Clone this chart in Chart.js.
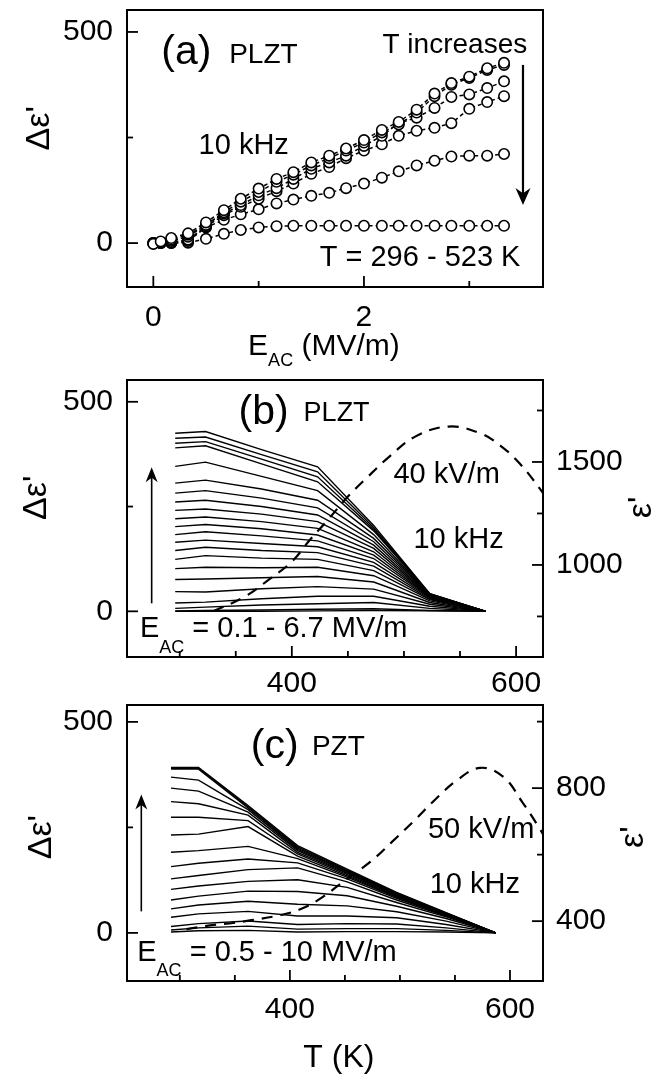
<!DOCTYPE html>
<html>
<head>
<meta charset="utf-8">
<script src="https://cdn.jsdelivr.net/npm/chart.js@4.4.1/dist/chart.umd.min.js"></script>
<style>
  body { margin: 0; background: #fff; width: 668px; height: 1078px; position: relative; overflow: hidden; }
  canvas { position: absolute; left: 0; }
</style>
</head>
<body>
<canvas id="chartA" width="668" height="372" style="top:0"></canvas>
<canvas id="chartB" width="668" height="328" style="top:372px"></canvas>
<canvas id="chartC" width="668" height="378" style="top:700px"></canvas>
<script>
const FONT = '"Liberation Sans", Arial, Helvetica, sans-serif';

// ---- panel (a): delta eps' vs E_AC, one series per temperature
const fieldA = [0, 0.07, 0.17, 0.33, 0.5, 0.67, 0.83, 1.0, 1.17, 1.33, 1.5, 1.67, 1.83, 2.0, 2.17, 2.33, 2.5, 2.67, 2.83, 3.0, 3.17, 3.33];
const epsA296 = [-2, 4, 12, 23, 49, 78, 105, 129, 152, 168, 191, 207, 224, 244, 268, 287, 316, 354, 379, 394, 414, 427];
const epsA323 = [-1, 2, 8, 20, 43, 73, 98, 121, 145, 162, 184, 201, 219, 238, 262, 281, 309, 348, 375, 391, 410, 422];
const epsA373 = [0, 1, 5, 15, 43, 70, 90, 113, 130, 152, 176, 191, 207, 230, 254, 284, 297, 320, 346, 352, 367, 383];
const epsA423 = [0, 0, 2, 8, 39, 66, 86, 105, 123, 141, 164, 180, 201, 219, 234, 254, 266, 273, 284, 318, 334, 348];
const epsA473 = [0, 0, 0, 5, 37, 55, 68, 80, 94, 103, 112, 119, 130, 141, 155, 170, 184, 195, 205, 207, 207, 211];
const epsA523 = [0, 0, 0, 1, 10, 22, 31, 37, 40, 41, 41, 41, 41, 41, 41, 41, 41, 41, 41, 41, 41, 41];

// ---- panel (b): PLZT, delta eps' vs T, one curve per E_AC (0.1 - 6.7 MV/m)
const tempB = [296, 323, 373, 423, 473, 523, 573];
const curvesB = [
  [425, 429, 386, 345, 205, 42, 0],
  [413, 416, 374, 333, 200, 42, 0],
  [401, 405, 363, 321, 196, 41, 0],
  [390, 395, 352, 309, 192, 41, 0],
  [346, 356, 322, 288, 183, 40, 0],
  [306, 313, 292, 265, 174, 40, 0],
  [282, 288, 270, 247, 166, 39, 0],
  [261, 265, 250, 230, 158, 38, 0],
  [241, 244, 232, 214, 150, 37, 0],
  [221, 225, 214, 198, 142, 36, 0],
  [202, 207, 197, 182, 134, 35, 0],
  [183, 190, 180, 168, 126, 34, 0],
  [165, 170, 162, 154, 117, 32, 0],
  [145, 153, 145, 140, 108, 30, 0],
  [124, 133, 127, 124, 97, 28, 0],
  [102, 105, 104, 105, 85, 25, 0],
  [76, 77, 80, 83, 70, 21, 0],
  [47, 46, 54, 59, 53, 17, 0],
  [20, 22, 30, 36, 36, 12, 0],
  [7, 10, 15, 18, 21, 7, 0],
  [1, 2, 3, 5, 6, 2, 0],
  [0, 0, 0, 1, 2, 1, 0]
];
// eps' at 40 kV/m (right axis)
const tempEpsB = [330, 358, 381, 400, 416, 432, 450, 468, 487, 510, 540, 568, 587, 603, 621, 630];
const epsB = [775, 846, 935, 1016, 1121, 1218, 1332, 1429, 1526, 1623, 1672, 1639, 1575, 1494, 1372, 1300];

// ---- panel (c): PZT, delta eps' vs T, one curve per E_AC (0.5 - 10 MV/m)
const tempC = [292, 317, 362, 407, 452, 497, 542, 587];
const curvesC = [
  [392, 392, 302, 207, 151, 96, 48, 0],
  [390, 390, 299, 204, 149, 95, 47, 0],
  [388, 388, 296, 201, 147, 94, 47, 0],
  [369, 362, 292, 198, 145, 93, 46, 0],
  [343, 336, 286, 195, 143, 91, 46, 0],
  [311, 306, 279, 191, 141, 90, 45, 0],
  [274, 274, 266, 187, 138, 88, 44, 0],
  [232, 234, 252, 182, 135, 86, 43, 0],
  [191, 195, 205, 176, 132, 84, 42, 0],
  [157, 165, 175, 166, 128, 82, 41, 0],
  [128, 136, 150, 154, 121, 78, 40, 0],
  [103, 111, 122, 126, 108, 72, 38, 0],
  [78, 87, 99, 98, 88, 63, 34, 0],
  [57, 66, 75, 68, 64, 50, 28, 0],
  [37, 45, 51, 40, 40, 36, 20, 0],
  [15, 22, 28, 20, 22, 21, 12, 0],
  [7, 12, 16, 9, 10, 10, 6, 0],
  [2, 5, 6, 2, 3, 3, 2, 0]
];
// eps' at 50 kV/m (right axis)
const tempEpsC = [306, 329, 345, 365, 391, 411, 430, 452, 473, 493, 512, 530, 552, 573, 594, 611, 625, 632];
const epsC = [376, 388, 393, 403, 418, 438, 473, 528, 578, 639, 699, 759, 824, 861, 834, 759, 689, 650];

// ---- axis ticks
const deltaMajor = [0, 500];
const deltaMinor = [250];
const fieldMajor = [0, 2];
const fieldMinor = [1, 3];
const tempMajor = [400, 600];
const tempMinor = [300, 350, 450, 500, 550];
const epsMajorB = [1000, 1500];
const epsMinorB = [750, 1250, 1750];
const epsMajorC = [400, 800];
const epsMinorC = [600, 1000];

function drawText(ctx, scales, t) {
  const px = scales.x.getPixelForValue(t.x);
  const py = scales.y.getPixelForValue(t.y);
  ctx.save();
  ctx.translate(px, py);
  if (t.rot) ctx.rotate(t.rot * Math.PI / 180);
  ctx.fillStyle = '#000';
  ctx.textBaseline = 'middle';
  ctx.textAlign = 'left';
  const widths = t.parts.map(p => {
    ctx.font = p.size + 'px ' + FONT;
    return ctx.measureText(p.s).width;
  });
  const total = widths.reduce((s, w) => s + w, 0);
  let cx = t.align === 'right' ? -total : t.align === 'center' ? -total / 2 : 0;
  t.parts.forEach((p, i) => {
    ctx.font = p.size + 'px ' + FONT;
    ctx.fillText(p.s, cx, p.dy || 0);
    cx += widths[i];
  });
  ctx.restore();
}

function makeDecor(cfg) {
  return {
    id: 'decor',
    afterDraw(chart) {
      const { ctx, chartArea: a, scales } = chart;
      ctx.save();
      ctx.strokeStyle = '#000';
      ctx.fillStyle = '#000';
      ctx.lineWidth = 1.8;
      // inward ticks
      cfg.ticks.forEach(t => {
        const s = scales[t.axis];
        const mark = (v, len) => {
          const p = s.getPixelForValue(v);
          ctx.beginPath();
          if (t.axis === 'x') { ctx.moveTo(p, a.bottom); ctx.lineTo(p, a.bottom - len); }
          else if (s.position === 'left') { ctx.moveTo(a.left, p); ctx.lineTo(a.left + len, p); }
          else { ctx.moveTo(a.right, p); ctx.lineTo(a.right - len, p); }
          ctx.stroke();
        };
        t.major.forEach(v => mark(v, 11));
        t.minor.forEach(v => mark(v, 6));
      });
      ctx.lineWidth = 2;
      ctx.strokeRect(a.left, a.top, a.right - a.left, a.bottom - a.top);
      // arrows
      cfg.arrows.forEach(ar => {
        const x = scales.x.getPixelForValue(ar.x);
        const y0 = scales.y.getPixelForValue(ar.from);
        const y1 = scales.y.getPixelForValue(ar.to);
        const dir = Math.sign(y1 - y0);
        ctx.lineWidth = ar.lw;
        ctx.beginPath();
        ctx.moveTo(x, y0);
        ctx.lineTo(x, y1 - dir * ar.head * 0.6);
        ctx.stroke();
        ctx.beginPath();
        ctx.moveTo(x, y1);
        ctx.lineTo(x - ar.half, y1 - dir * ar.head);
        ctx.lineTo(x, y1 - dir * ar.head * 0.7);
        ctx.lineTo(x + ar.half, y1 - dir * ar.head);
        ctx.closePath();
        ctx.fill();
      });
      cfg.texts.forEach(t => drawText(ctx, scales, t));
      ctx.restore();
    }
  };
}

function linAxis(pos, min, max, majors, size, pad, fontSize) {
  const vertical = pos === 'left' || pos === 'right';
  return {
    type: 'linear', position: pos, min: min, max: max,
    grid: { display: false, drawTicks: false },
    border: { display: false },
    afterBuildTicks: s => { s.ticks = majors.map(v => ({ value: v })); },
    afterFit: s => {
      if (vertical) s.width = size; else s.height = size;
      // keep the plot box exactly where the layout padding puts it
      s.paddingTop = 0; s.paddingBottom = 0; s.paddingLeft = 0; s.paddingRight = 0;
    },
    ticks: {
      color: '#000', padding: pad, autoSkip: false, maxRotation: 0,
      font: { family: FONT, size: fontSize },
      callback: v => String(v)
    }
  };
}

const baseOptions = (padTop, padRight) => ({
  responsive: false,
  animation: false,
  events: [],
  layout: { padding: { top: padTop, right: padRight, left: 0, bottom: 0 } },
  plugins: { legend: { display: false }, tooltip: { enabled: false } }
});

// ---------- chart (a)
const seriesA = [epsA296, epsA323, epsA373, epsA423, epsA473, epsA523];
const optsA = baseOptions(10, 125);
optsA.scales = {
  x: linAxis('bottom', -0.25, 3.70, fieldMajor, 85, 13, 30),
  y: linAxis('left', -104, 552, deltaMajor, 127, 14, 30)
};
new Chart(document.getElementById('chartA'), {
  type: 'line',
  data: {
    datasets: seriesA.map(s => ({
      data: fieldA.map((x, i) => ({ x: x, y: s[i] })),
      borderColor: '#000', borderWidth: 1.5, borderDash: [4, 3],
      pointRadius: 5.2, pointBorderWidth: 1.6,
      pointBorderColor: '#000', pointBackgroundColor: '#fff', tension: 0
    }))
  },
  options: optsA,
  plugins: [makeDecor({
    ticks: [
      { axis: 'x', major: fieldMajor, minor: fieldMinor },
      { axis: 'y', major: deltaMajor, minor: deltaMinor }
    ],
    arrows: [{ x: 3.51, from: 422, to: 90, lw: 2.2, head: 17, half: 7.5 }],
    texts: [
      { parts: [{ s: '(a)', size: 41 }], x: 0.076, y: 452 },
      { parts: [{ s: 'PLZT', size: 28 }], x: 0.72, y: 445 },
      { parts: [{ s: 'T increases', size: 28 }], x: 3.55, y: 469, align: 'right' },
      { parts: [{ s: '10 kHz', size: 29 }], x: 0.43, y: 229 },
      { parts: [{ s: 'T = 296 - 523 K', size: 29 }], x: 1.58, y: -36 },
      { parts: [{ s: "Δε'", size: 34 }], x: -1.08, y: 272, align: 'center', rot: -90 },
      { parts: [{ s: 'E', size: 30 }, { s: 'AC', size: 18, dy: 14 }, { s: ' (MV/m)', size: 30 }], x: 0.90, y: -246 }
    ]
  })]
});

// ---------- helpers for (b) and (c)
function tempPanel(canvasId, temps, curves, tEps, eps, cfg) {
  const opts = baseOptions(cfg.padTop, 0);
  opts.scales = {
    x: linAxis('bottom', cfg.xMin, cfg.xMax, tempMajor, cfg.xH, cfg.xPad, 30),
    y: linAxis('left', cfg.yMin, cfg.yMax, deltaMajor, 127, 14, 30),
    y2: linAxis('right', cfg.eMin, cfg.eMax, cfg.eMajor, 125, 13, 30)
  };
  const sets = curves.map(c => ({
    data: temps.map((t, i) => ({ x: t, y: c[i] })),
    yAxisID: 'y', borderColor: '#000', borderWidth: 1.4, pointRadius: 0, tension: 0
  }));
  sets.push({
    data: tEps.map((t, i) => ({ x: t, y: eps[i] })),
    yAxisID: 'y2', borderColor: '#000', borderWidth: 2.2, borderDash: [11, 8],
    pointRadius: 0, tension: 0.4
  });
  new Chart(document.getElementById(canvasId), {
    type: 'line',
    data: { datasets: sets },
    options: opts,
    plugins: [makeDecor({
      ticks: [
        { axis: 'x', major: tempMajor, minor: tempMinor },
        { axis: 'y', major: deltaMajor, minor: deltaMinor },
        { axis: 'y2', major: cfg.eMajor, minor: cfg.eMinor }
      ],
      arrows: cfg.arrows,
      texts: cfg.texts
    })]
  });
}

// ---------- chart (b)
tempPanel('chartB', tempB, curvesB, tempEpsB, epsB, {
  padTop: 8, xH: 43, xPad: 9,
  xMin: 253, xMax: 624, yMin: -109, yMax: 552,
  eMin: 553, eMax: 1898, eMajor: epsMajorB, eMinor: epsMinorB,
  arrows: [{ x: 275, from: 19, to: 344, lw: 1.6, head: 15, half: 6 }],
  texts: [
    { parts: [{ s: '(b)', size: 41 }], x: 352.5, y: 473 },
    { parts: [{ s: 'PLZT', size: 27 }], x: 410.5, y: 471 },
    { parts: [{ s: '40 kV/m', size: 29 }], x: 490.6, y: 326 },
    { parts: [{ s: '10 kHz', size: 29 }], x: 508.5, y: 171 },
    { parts: [{ s: 'E', size: 29 }, { s: 'AC', size: 18, dy: 19 }, { s: ' = 0.1 - 6.7 MV/m', size: 29 }], x: 264.5, y: -43 },
    { parts: [{ s: "Δε'", size: 34 }], x: 172, y: 271, align: 'center', rot: -90 },
    { parts: [{ s: "ε'", size: 34 }], x: 712, y: 248, align: 'center', rot: -90 }
  ]
});

// ---------- chart (c)
tempPanel('chartC', tempC, curvesC, tempEpsC, epsC, {
  padTop: 5, xH: 97, xPad: 11,
  xMin: 252, xMax: 630, yMin: -114, yMax: 540,
  eMin: 220, eMax: 1050, eMajor: epsMajorC, eMinor: epsMinorC,
  arrows: [{ x: 265, from: 51, to: 328, lw: 1.6, head: 15, half: 6 }],
  texts: [
    { parts: [{ s: '(c)', size: 41 }], x: 364.5, y: 442 },
    { parts: [{ s: 'PZT', size: 28 }], x: 420, y: 440 },
    { parts: [{ s: '50 kV/m', size: 29 }], x: 525.5, y: 244 },
    { parts: [{ s: '10 kHz', size: 29 }], x: 527, y: 114 },
    { parts: [{ s: 'E', size: 29 }, { s: 'AC', size: 18, dy: 18 }, { s: ' = 0.5 - 10 MV/m', size: 29 }], x: 261.3, y: -47 },
    { parts: [{ s: "Δε'", size: 34 }], x: 174, y: 227, align: 'center', rot: -90 },
    { parts: [{ s: "ε'", size: 34 }], x: 712, y: 227, align: 'center', rot: -90 },
    { parts: [{ s: 'T (K)', size: 32 }], x: 444.5, y: -296, align: 'center' }
  ]
});
</script>
</body>
</html>
